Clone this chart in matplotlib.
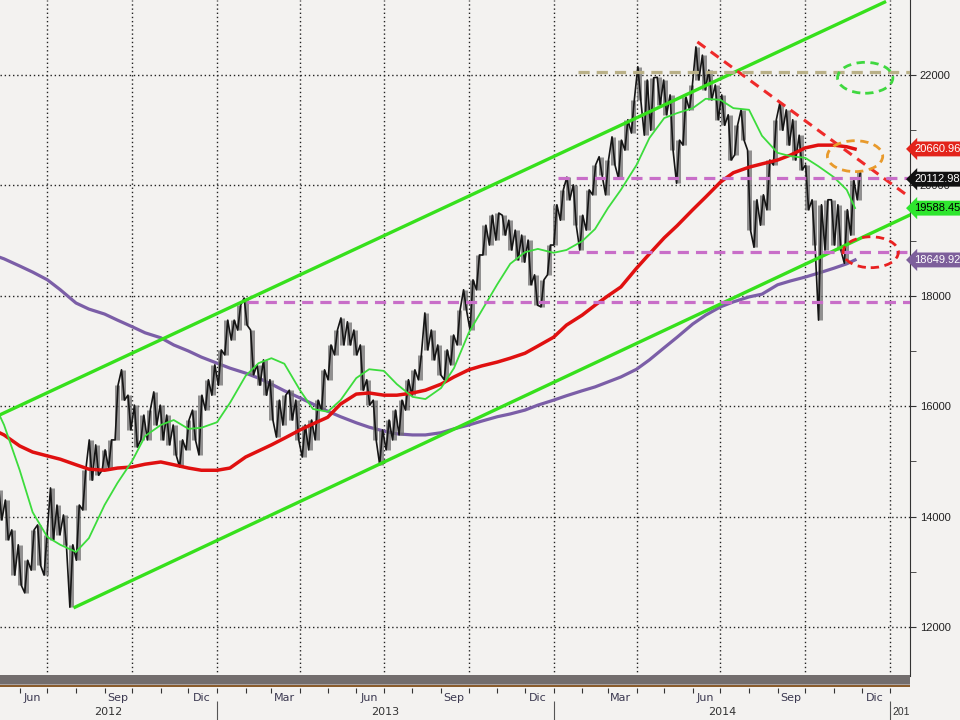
import numpy as np
import pandas as pd
import matplotlib
matplotlib.use("Agg")
import matplotlib.pyplot as plt
import matplotlib.dates as mdates
from matplotlib.patches import Ellipse, Rectangle

# weekly price ranges, weeks starting 2012-05-11
week_start = "2012-05-11"
week_high = [14480, 14300, 13760, 13490, 13210, 13760, 13850, 13670, 14520, 14210,
             14030, 13490, 14210, 14840, 15390, 15300, 15210, 15390, 16380, 16660,
             16200, 16020, 15840, 15930, 16260, 16020, 15840, 15660, 15390, 15750,
             15930, 16200, 16480, 16750, 17020, 17560, 17560, 17830, 17960, 17380,
             16750, 16840, 16480, 16110, 16200, 16290, 16110, 15660, 15750, 16110,
             16660, 17110, 17380, 17600, 17530, 17380, 17110, 16480, 16110, 15570,
             15750, 15930, 16110, 16480, 16660, 16930, 17690, 17380, 17110, 17020,
             17290, 17740, 18110, 18290, 18740, 19280, 19460, 19500, 19460, 19370,
             19190, 19100, 19010, 18380, 18290, 18920, 19650, 19920, 20150, 20010,
             19460, 19920, 20370, 20520, 20460, 20880, 20820, 21190, 21550, 22150,
             21910, 21950, 21960, 21910, 21640, 20820, 21600, 21820, 22510, 22360,
             22090, 21820, 21640, 21280, 21090, 21370, 20640, 19740, 19830, 20460,
             21190, 21490, 21370, 21190, 20910, 20370, 19740, 19650, 19740, 19740,
             19650, 19560, 20100, 20240]
week_low = [13940, 13580, 12940, 12760, 12620, 13030, 13120, 12940, 13580, 13670,
            13490, 12360, 13210, 14120, 14660, 14750, 14840, 14880, 15390, 16110,
            15570, 15260, 15390, 15390, 15660, 15390, 15300, 15120, 14900, 15210,
            15390, 15120, 15930, 16200, 16380, 16930, 17200, 17380, 17470, 16570,
            16380, 16200, 15750, 15440, 15660, 15750, 15390, 15080, 15210, 15390,
            15930, 16480, 16930, 17110, 17110, 16930, 16290, 16020, 15390, 14940,
            15210, 15390, 15480, 15930, 16200, 16480, 17020, 16840, 16570, 16480,
            16750, 17110, 17740, 17380, 18110, 18740, 18920, 19010, 19100, 18830,
            18650, 18610, 18200, 17830, 17800, 18380, 18920, 19370, 19740, 19280,
            18830, 19190, 19830, 20190, 19830, 20370, 20130, 20640, 20950, 21550,
            20910, 21000, 21460, 21280, 20640, 20040, 20730, 21370, 21910, 21730,
            21550, 21190, 21090, 20460, 20550, 20820, 19190, 18880, 19280, 19560,
            20370, 21000, 20730, 20460, 20280, 19560, 18920, 17560, 18830, 18920,
            18830, 18590, 19100, 19740]

# moving averages, sampled on 1st/15th of each month
ma_first = ["2012-05-10", "2012-05-15"]
ma_last = ["2014-11-24"]
ma_fast = [15840, 15660, 14840, 14080, 13630, 13490, 13360, 13610, 14210, 14610,
           15010, 15460, 15660, 15750, 15590, 15610,
           15710, 16060, 16550, 16780, 16870, 16770, 16290, 15950, 15900, 16110,
           16510, 16670, 16640, 16400, 16170, 16130, 16330, 16690, 17330, 17730,
           18210, 18580, 18790, 18850,
           18780, 18830, 18990, 19210, 19590, 19920, 20370, 20860, 21220, 21310,
           21400, 21570, 21550, 21400, 21370, 20900, 20590, 20530, 20500, 20350,
           20150, 19920, 19590]
ma_mid = [15520, 15480, 15280, 15170, 15100, 15040, 14940, 14860, 14840, 14880,
          14900, 14950, 14990, 14940, 14880, 14840,
          14840, 14880, 15080, 15190, 15300, 15420, 15570, 15680, 15800, 16040,
          16220, 16240, 16200, 16200, 16240, 16290, 16400, 16530, 16660, 16730,
          16800, 16870, 16960, 17090,
          17250, 17470, 17650, 17830, 18000, 18160, 18500, 18760, 19050, 19270,
          19560, 19790, 20060, 20230, 20330, 20390, 20460, 20550, 20680, 20730,
          20730, 20700, 20660]
ma_slow = [18700, 18670, 18540, 18430, 18290, 18110, 17870, 17760, 17670, 17560,
           17440, 17330, 17240, 17110, 17000, 16890,
           16780, 16690, 16600, 16510, 16400, 16280, 16150, 16040, 15910, 15810,
           15700, 15620, 15550, 15500, 15480, 15480, 15520, 15590, 15660, 15730,
           15810, 15860, 15930, 16020,
           16110, 16190, 16280, 16350, 16440, 16530, 16670, 16840, 17060, 17250,
           17490, 17650, 17800, 17890, 17980, 18030, 18200, 18270, 18340, 18410,
           18500, 18580, 18650]

# trend lines (two end points each)
upper_dates = ["2012-05-10", "2014-12-26"]
upper_vals = [15840, 23320]
lower_dates = ["2012-07-31", "2015-01-22"]
lower_vals = [12360, 19460]
down_dates = ["2014-06-06", "2015-01-22"]
down_vals = [22600, 19790]

# horizontal levels
level_vals = [22050, 20130, 18790, 17890]
level_from = ["2014-01-27", "2014-01-06", "2014-01-17", "2013-02-02"]
level_colors = ["#b9b087", "#c86ec8", "#c86ec8", "#c86ec8"]

# circled zones
zone_dates = ["2014-12-05", "2014-11-24", "2014-12-11"]
zone_vals = [21950, 20530, 18790]
zone_colors = ["#3fd83f", "#e89a2c", "#e82020"]

# right side tags
tag_vals = [20660.96, 20112.98, 19588.45, 18649.92]
tag_bg = ["#e3241b", "#111111", "#2ee62e", "#7d5f9b"]
tag_fg = ["white", "white", "black", "white"]

month_names = ["Jun", "Sep", "Dic", "Mar", "Jun", "Sep", "Dic", "Mar", "Jun", "Sep", "Dic"]
years = ["2012", "2013", "2014", "2015"]

bg = "#f3f2f0"
fig = plt.figure(figsize=(9.6, 7.2), dpi=100, facecolor=bg)
ax = fig.add_axes([0, 1 - 676 / 720, 910 / 960, 676 / 720], facecolor=bg)

d0 = mdates.date2num(pd.Timestamp("2013-01-01"))
xmin, xmax = d0 - 235.4, d0 + 751.6
ax.set_xlim(xmin, xmax)
ax.set_ylim(11113, 23359)

def dn(lst):
    return mdates.date2num(pd.to_datetime(lst))

# grid
quarters = dn(pd.date_range("2012-07-01", "2015-01-01", freq="QS"))
for q in quarters:
    ax.axvline(q, color="#222222", lw=1, ls=(0, (1, 2)), zorder=1)
for v in range(12000, 22001, 2000):
    ax.axhline(v, color="#222222", lw=1, ls=(0, (1, 2)), zorder=1)

# moving averages
ma_x = dn(ma_first + [d.strftime("%Y-%m-%d") for d in pd.date_range("2012-06-01", "2014-11-15", freq="SMS")] + ma_last)
ax.plot(ma_x, ma_slow, color="#7b5ea7", lw=2.3, zorder=3)
ax.plot(ma_x, ma_mid, color="#e01010", lw=2.5, zorder=4)

# price bars
wd = dn(pd.date_range(week_start, periods=len(week_high), freq="7D"))
hi = np.array(week_high)
lo = np.array(week_low)
mid = (hi + lo) / 2
ax.vlines(wd, lo, hi, color="#707070", lw=3.6, alpha=0.75, zorder=3.5)
px, py = [], []
for i in range(len(wd)):
    up = i == len(wd) - 1 or mid[i + 1] > mid[i]
    a, b = (lo[i], hi[i]) if up else (hi[i], lo[i])
    px += [wd[i] - 1.6, wd[i] + 1.6]
    py += [a, b]
ax.plot(px, py, color="#151515", lw=1.2, zorder=3.6)

ax.plot(ma_x, ma_fast, color="#3cdc3c", lw=1.3, zorder=4.5)

# channel and trend lines
ax.plot(dn(upper_dates), upper_vals, color="#36e01c", lw=2.4, zorder=5)
ax.plot(dn(lower_dates), lower_vals, color="#36e01c", lw=2.4, zorder=5)
ax.plot(dn(down_dates), down_vals, color="#ee2a2a", lw=2.2, ls=(0, (3.2, 2.2)), zorder=6)

for v, s, c in zip(level_vals, level_from, level_colors):
    ax.hlines(v, dn([s])[0], xmax, color=c, lw=2.3, linestyles=[(0, (3.5, 2.2))], zorder=6)

for d, v, c in zip(zone_dates, zone_vals, zone_colors):
    ax.add_patch(Ellipse((dn([d])[0], v), width=60, height=560, fill=False,
                         ec=c, lw=2.0, ls=(0, (3, 2)), zorder=7))

# right axis
for s in ["left", "top", "bottom"]:
    ax.spines[s].set_visible(False)
ax.spines["right"].set_color("#333333")
ax.yaxis.tick_right()
ax.set_yticks(range(12000, 22001, 2000))
ax.set_yticks(range(13000, 22001, 2000), minor=True)
ax.tick_params(axis="y", which="both", direction="out", length=4, color="#333333",
               labelsize=8, labelcolor="#222222", pad=3)
for t in ax.get_yticklabels():
    t.set_family(["Liberation Sans", "DejaVu Sans"])
ax.set_xticks([])

for v, b, f in zip(tag_vals, tag_bg, tag_fg):
    ax.annotate(f"{v:.2f}", xy=(1.0, v), xycoords=("axes fraction", "data"),
                xytext=(3, 0), textcoords="offset points", ha="left", va="center",
                fontsize=8, color=f, family=["Liberation Sans", "DejaVu Sans"],
                bbox=dict(boxstyle="larrow,pad=0.22", fc=b, ec="none"),
                zorder=10, annotation_clip=False)

# bottom band
fig.add_artist(Rectangle((0, 1 - 684 / 720), 910 / 960, 9 / 720, transform=fig.transFigure,
                         fc="#726d6d", ec="none"))
fig.add_artist(Rectangle((0, 1 - 685 / 720), 910 / 960, 1 / 720, transform=fig.transFigure,
                         fc="#a8a2a2", ec="none"))
fig.add_artist(Rectangle((0, 1 - 687 / 720), 910 / 960, 2 / 720, transform=fig.transFigure,
                         fc="#8a5c2c", ec="none"))

axb = fig.add_axes([0, 0, 910 / 960, 32 / 720], facecolor="none")
axb.set_xlim(xmin, xmax)
axb.set_ylim(0, 1)
axb.axis("off")
months = dn(pd.date_range("2012-06-01", "2015-01-01", freq="MS"))
axb.vlines(months, 0.84, 1.0, color="#333333", lw=0.8)
mpos = dn(pd.to_datetime([f"{d.year}-{d.month:02d}-15" for d in pd.date_range("2012-06-01", "2014-12-01", freq="3MS")]))
for x, name in zip(mpos, month_names):
    axb.text(x, 0.70, name, ha="center", va="center", fontsize=8, color="#3b3850")
ystarts = [xmin, d0, d0 + 365, d0 + 730, xmax]
for i, y in enumerate(years[:3]):
    axb.text((ystarts[i] + ystarts[i + 1]) / 2, 0.24, y, ha="center", va="center",
             fontsize=8, color="#333333")
axb.text(d0 + 733, 0.24, years[3], ha="left", va="center", fontsize=7.5, color="#333333",
         family=["Liberation Sans", "DejaVu Sans"], clip_on=True)
for x in [d0, d0 + 365, d0 + 730]:
    axb.vlines(x, 0, 0.6, color="#555555", lw=0.8)

fig.savefig("out.png", dpi=100, facecolor=bg)
